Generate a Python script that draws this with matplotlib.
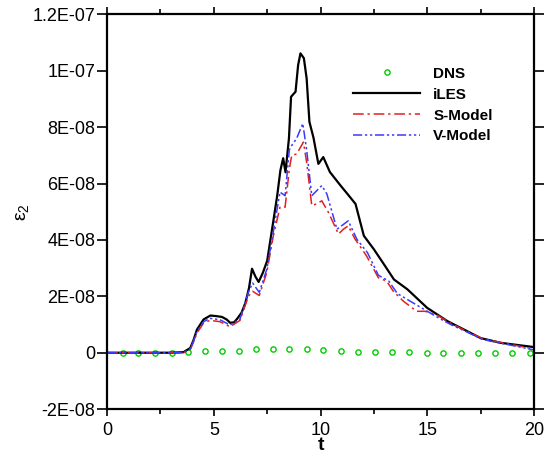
import numpy as np
import matplotlib
matplotlib.use("Agg")
import matplotlib.pyplot as plt
from matplotlib.ticker import MultipleLocator

plt.rcParams['font.family'] = ['Liberation Sans', 'DejaVu Sans']
plt.rcParams['mathtext.fontset'] = 'custom'
plt.rcParams['mathtext.rm'] = 'Liberation Sans'

# DNS (open circles)
t_dns = [0.73, 1.47, 2.25, 3.03, 3.81, 4.59, 5.37, 6.18, 6.96, 7.76, 8.54, 9.35,
         10.13, 10.94, 11.74, 12.55, 13.35, 14.16, 14.97, 15.75, 16.57, 17.36,
         18.17, 18.98, 19.81]
e_dns = [0.0, 0.0, 0.0, 0.0, 0.02, 0.06, 0.06, 0.06, 0.12, 0.14, 0.14, 0.12,
         0.08, 0.06, 0.04, 0.02, 0.02, 0.01, 0.0, 0.0, 0.0, 0.0, 0.0, 0.0, 0.0]

# iLES
t_iles = [0, 1, 2, 3, 3.58, 3.9, 4.05, 4.21, 4.52, 4.84, 5.1, 5.38, 5.6, 5.77,
          5.95, 6.09, 6.3, 6.48, 6.65, 6.79, 6.95, 7.10, 7.3, 7.5, 7.73, 7.97,
          8.12, 8.25, 8.36, 8.52, 8.62, 8.83, 8.95, 9.06, 9.22, 9.35, 9.48,
          9.67, 9.9, 10.13, 10.44, 10.94, 11.33, 11.64, 12.03, 12.5, 12.97,
          13.44, 14.07, 15.0, 15.95, 16.73, 17.5, 18.45, 20]
e_iles = [0, 0, 0, 0, 0.02, 0.17, 0.45, 0.82, 1.18, 1.32, 1.30, 1.27, 1.18,
          1.06, 1.08, 1.2, 1.42, 1.77, 2.3, 2.98, 2.7, 2.51, 2.84, 3.26, 4.38,
          5.57, 6.47, 6.9, 6.4, 7.6, 9.08, 9.26, 10.2, 10.62, 10.45, 9.73,
          8.19, 7.63, 6.7, 6.94, 6.41, 5.93, 5.57, 5.28, 4.15, 3.67, 3.14, 2.6,
          2.25, 1.59, 1.12, 0.82, 0.52, 0.35, 0.2]

# S-Model
t_s = [0, 1, 2, 3, 3.58, 3.9, 4.05, 4.21, 4.52, 4.82, 5.29, 5.76, 6.23, 6.62,
       6.82, 7.13, 7.48, 7.79, 8.10, 8.34, 8.54, 8.65, 8.88, 9.20, 9.35, 9.59,
       9.82, 10.06, 10.37, 10.84, 11.07, 11.30, 11.62, 12.16, 12.71, 13.1,
       13.41, 13.88, 14.51, 14.9, 15.44, 16.07, 16.85, 17.63, 20]
e_s = [0, 0, 0, 0, 0.0, 0.12, 0.38, 0.7, 1.05, 1.15, 1.1, 0.92, 1.15, 2.0,
       2.18, 2.03, 2.84, 4.15, 5.16, 5.16, 6.52, 7.0, 7.05, 7.47, 6.76, 5.22,
       5.28, 5.39, 4.98, 4.21, 4.38, 4.5, 4.03, 3.43, 2.66, 2.54, 2.18, 1.83,
       1.47, 1.47, 1.35, 1.06, 0.76, 0.49, 0.13]

# V-Model
t_v = [0, 1, 2, 3, 3.58, 3.9, 4.05, 4.21, 4.52, 4.82, 5.29, 5.76, 6.23, 6.62,
       6.82, 7.13, 7.48, 7.79, 8.10, 8.34, 8.54, 8.65, 8.88, 9.17, 9.35, 9.59,
       10.06, 10.3, 10.77, 11.30, 11.7, 12.2, 12.71, 13.2, 13.6, 14.6, 15.5,
       16.1, 16.9, 17.6, 20]
e_v = [0, 0, 0, 0, 0.0, 0.14, 0.42, 0.75, 1.1, 1.22, 1.17, 0.98, 1.2, 2.15,
       2.47, 2.14, 2.95, 4.3, 5.7, 5.57, 7.2, 7.35, 7.6, 8.13, 7.2, 5.57,
       5.93, 5.63, 4.38, 4.68, 4.03, 3.55, 2.75, 2.54, 2.1, 1.65, 1.25, 1.0,
       0.72, 0.47, 0.1]

y_ticks = [-2e-8, 0, 2e-8, 4e-8, 6e-8, 8e-8, 1e-7, 1.2e-7]
y_tick_labels = ['-2E-08', '0', '2E-08', '4E-08', '6E-08', '8E-08', '1E-07', '1.2E-07']

scale = 1e-8

fig = plt.figure(figsize=(5.55, 4.67), dpi=100)
ax = fig.add_axes([0.193, 0.124, 0.769, 0.845])

ax.plot(t_dns, np.array(e_dns) * scale, linestyle='none', marker='o',
        markersize=3.8, markerfacecolor='none', markeredgecolor='#00cc00',
        markeredgewidth=1.0, label='DNS')
ax.plot(t_iles, np.array(e_iles) * scale, color='black', lw=1.6, label='iLES')
ax.plot(t_s, np.array(e_s) * scale, color='#e02020', lw=1.1,
        linestyle=(0, (7, 2.5, 1.5, 2.5)), label='S-Model')
ax.plot(t_v, np.array(e_v) * scale, color='#3a3aff', lw=1.1,
        linestyle=(0, (6, 1.8, 1.5, 1.8, 1.5, 1.8)), label='V-Model')

ax.set_xlim(0, 20)
ax.set_ylim(-2e-8, 1.2e-7)
ax.set_yticks(y_ticks)
ax.set_yticklabels(y_tick_labels)
ax.xaxis.set_major_locator(MultipleLocator(5))
ax.xaxis.set_minor_locator(MultipleLocator(2.5))

for s in ax.spines.values():
    s.set_linewidth(1.6)
ax.tick_params(which='both', direction='out', top=True, right=True,
               labelsize=13, width=1.2)
ax.tick_params(axis='y', which='major', length=7, pad=1.5)
ax.tick_params(axis='x', which='major', length=5, pad=4)
ax.tick_params(axis='x', which='minor', length=3.5)

ax.set_xlabel('t', fontsize=14, fontweight='bold', labelpad=-1)
ax.set_ylabel(r'$\mathregular{\varepsilon_2}$', fontsize=14, labelpad=1)

leg = ax.legend(loc='upper left', bbox_to_anchor=(0.562, 0.883), frameon=False,
                prop={'size': 11, 'weight': 'bold'}, handlelength=4.4,
                handletextpad=0.85, labelspacing=0.45, borderaxespad=0)

fig.savefig('out.png', dpi=100)
